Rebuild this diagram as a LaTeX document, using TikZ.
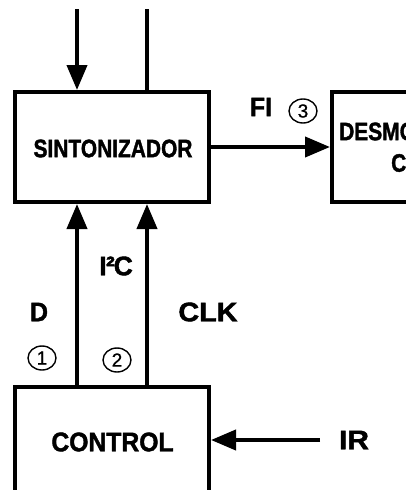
\documentclass[tikz,border=0pt]{standalone}
\usepackage{fontspec}
\setmainfont{Liberation Sans}
\newfontfamily\hv[FakeBold=1.6]{Liberation Sans Bold}
\newfontfamily\hvnum[FakeBold=0.8]{Liberation Sans}
\usetikzlibrary{arrows.meta,shapes.geometric}
\begin{document}
\begin{tikzpicture}[x=1pt,y=-1pt,
  blk/.style={draw,line width=4pt,inner sep=0pt},
  ln/.style={line width=4pt},
  arr/.style={line width=4pt,-{Triangle[length=25pt,width=20pt]}},
  lab/.style={font=\hv\fontsize{24}{24}\selectfont,inner sep=0pt},
  boxtxt/.style={font=\hv\fontsize{22.5}{23}\selectfont,inner sep=0pt},
  num/.style={draw,ellipse,line width=1.4pt,minimum width=28pt,minimum height=24pt,inner sep=0pt,font=\hvnum\fontsize{19}{19}\selectfont}
]
\path[use as bounding box] (0,0) rectangle (406,490);
\clip (0,0) rectangle (406,490);

% blocks
\node[blk,minimum width=194pt,minimum height=110pt] (sint) at (112,147) {};
\node[boxtxt] (sinttxt) at (113,148.5) {\scalebox{0.93}[1.12]{SINTONIZADOR}};
\node[blk,minimum width=100pt,minimum height=110pt] (desm) at (382,147) {};
\node[boxtxt,anchor=west] (desmA) at (339,131.5) {\scalebox{0.93}[1.12]{DESMO}};
\node[boxtxt,anchor=west] (desmB) at (391,163) {\scalebox{0.93}[1.12]{C}};
\node[blk,minimum width=194pt,minimum height=120pt] (ctl) at (112,447) {};
\node[lab] (ctltxt) at (112.5,442) {\scalebox{1.03}[1.12]{CONTROL}};

% coordinates
\coordinate (in1) at (77,9);
\coordinate (in2) at (147,9);
\coordinate (irs) at (320,440);

% connectors
\draw[arr] (in1) -- (in1 |- sint.north);
\draw[ln] (in2) -- (in2 |- sint.north);
\draw[arr] (in1 |- ctl.north) -- (in1 |- sint.south);
\draw[arr] (in2 |- ctl.north) -- (in2 |- sint.south);
\draw[arr] (sint.east) -- (desm.west);
\draw[arr] (irs) -- (irs -| ctl.east);

% labels
\node[lab] (fi) at (261,107) {\scalebox{1.04}[1.12]{FI}};
\node[num] (n3) at (303,111) {3};
\node[lab] (i2c) at (116,266) {\scalebox{1.1}[1.12]{I\kern-0.5pt²\kern-1pt C}};
\node[lab] (d) at (39,312) {\scalebox{1.04}[1.12]{D}};
\node[lab] (clk) at (208,312) {\scalebox{1.2}[1.12]{CLK}};
\node[num] (n1) at (42,358) {1};
\node[num] (n2) at (117,360) {2};
\node[lab] (ir) at (354,440) {\scalebox{1.25}[1.12]{IR}};
\end{tikzpicture}
\end{document}
